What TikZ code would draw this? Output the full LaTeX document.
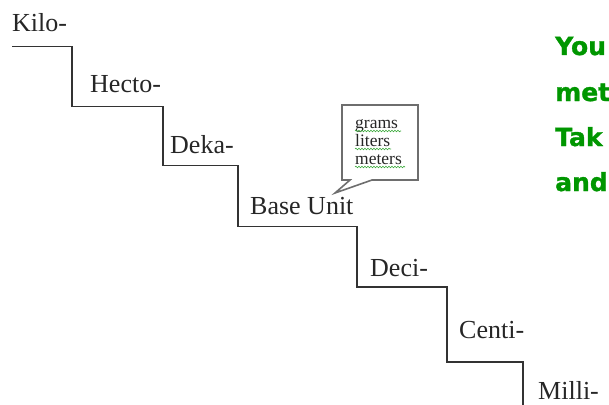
\documentclass[tikz,border=0pt]{standalone}
\usepackage{fontspec}
\setmainfont{Liberation Serif}
\newfontfamily\greenfont[BoldFeatures={FakeBold=1.2}]{DejaVu Sans}
\usetikzlibrary{decorations.pathmorphing}
\definecolor{tgreen}{RGB}{0,150,0}
\definecolor{sqgreen}{RGB}{60,170,60}
\definecolor{boxgray}{RGB}{110,110,110}
\tikzset{
  steplabel/.style={anchor=base west, inner sep=0pt, font=\fontsize{26}{28}\selectfont, text=black!85},
  gtext/.style={anchor=base west, inner sep=0pt, font=\greenfont\bfseries\fontsize{25}{27}\selectfont, text=tgreen},
  ctext/.style={anchor=base west, inner sep=0pt, font=\fontsize{17.5}{19}\selectfont, text=black!85},
  squig/.style={draw=sqgreen, line width=0.6pt, decorate, decoration={snake, amplitude=0.8pt, segment length=3pt}},
  stairline/.style={draw=black!80, line width=1.2pt},
  callout/.style={draw=boxgray, line width=1.6pt, fill=white, line join=miter}
}
\begin{document}
\begin{tikzpicture}[x=1pt, y=-1pt]
\useasboundingbox (0,0) rectangle (609,404);
\clip (0,0) rectangle (609,404);
% staircase
\draw[stairline] (12,46.5) -- (72,46.5) -- (72,106.5) -- (163,106.5) -- (163,165.5)
  -- (238,165.5) -- (238,226.5) -- (357,226.5) -- (357,287) -- (447,287)
  -- (447,362) -- (523,362) -- (523,410);
% step labels
\node[steplabel] (kilo) at (12,31) {Kilo-};
\node[steplabel] (hecto) at (90,92) {Hecto-};
\node[steplabel] (deka) at (170,153) {Deka-};
\node[steplabel] (base) at (250,214) {Base Unit};
\node[steplabel] (deci) at (370,276) {Deci-};
\node[steplabel] (centi) at (459,338) {Centi-};
\node[steplabel] (milli) at (538,399) {Milli-};
% callout
\draw[callout] (342,105) -- (418,105) -- (418,180) -- (372,180) -- (335,193)
  -- (350,180) -- (342,180) -- cycle;
\node[ctext] (grams) at (355,128) {grams};
\node[ctext] (liters) at (355,146) {liters};
\node[ctext] (meters) at (355,164) {meters};
\draw[squig] (grams.base west) ++(0,3) -- ++(46,0);
\draw[squig] (liters.base west) ++(0,3) -- ++(36,0);
\draw[squig] (meters.base west) ++(0,3) -- ++(50,0);
% green text (cut at the right edge)
\node[gtext] (l1) at (555,55) {You};
\node[gtext] (l2) at (555,101) {met};
\node[gtext] (l3) at (555,146) {Tak};
\node[gtext] (l4) at (555,191) {and};
\end{tikzpicture}
\end{document}
